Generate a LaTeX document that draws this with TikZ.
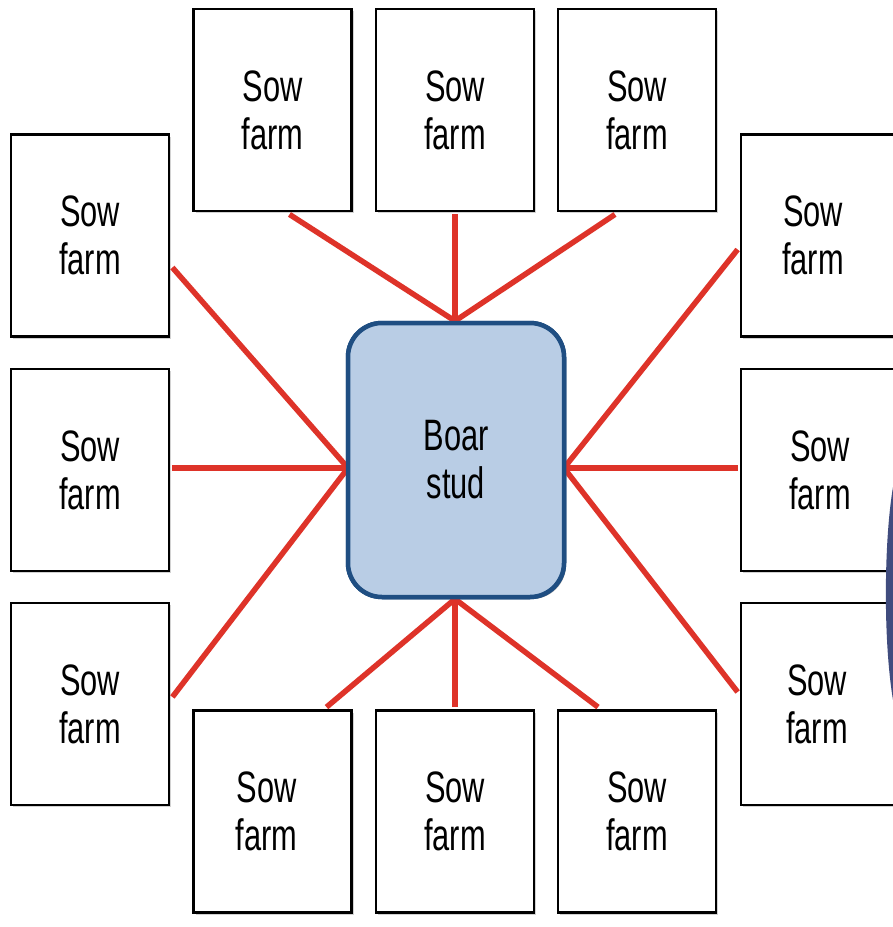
\documentclass[tikz,border=0pt]{standalone}
\usepackage{fontspec}
\setmainfont{Liberation Sans}[FakeStretch=0.7]
\usetikzlibrary{calc,shadows}
\definecolor{linkred}{HTML}{DE3329}
\definecolor{studfill}{HTML}{B9CDE5}
\definecolor{studedge}{HTML}{1F4E82}
\definecolor{darkblob}{HTML}{404C7E}
\begin{document}
\begin{tikzpicture}[x=1pt,y=-1pt,
  farmbox/.style={draw=black, line width=2.8pt, fill=white, minimum width=158pt, minimum height=202pt, inner sep=0pt, align=center,
    font=\fontsize{44}{48}\selectfont,
    drop shadow={shadow xshift=2pt, shadow yshift=-2pt, opacity=0.35, fill=gray}},
  studbox/.style={draw=studedge, line width=4.5pt, fill=studfill, rounded corners=34pt, minimum width=216pt, minimum height=274pt, inner sep=0pt, align=center,
    font=\fontsize{44}{48}\selectfont,
    drop shadow={shadow xshift=2pt, shadow yshift=-2pt, opacity=0.35, fill=gray}},
  link/.style={draw=linkred, line width=5.5pt}]
\useasboundingbox (0,0) rectangle (893,927);
\fill[white] (0,0) rectangle (893,927);

\coordinate (cn) at (455,321);
\coordinate (cw) at (348,468);
\coordinate (ce) at (564,468);
\coordinate (cs) at (455,599);

\node[studbox] (c) at (456,460) {Boar\\stud};

\node[farmbox] (t1) at (272.5,110) {Sow\\farm};
\node[farmbox] (t2) at (455,110) {Sow\\farm};
\node[farmbox] (t3) at (637,110) {Sow\\farm};
\node[farmbox] (l1) at (90,235.5) {Sow\\farm};
\node[farmbox] (l2) at (90,470) {Sow\\farm};
\node[farmbox] (l3) at (90,704) {Sow\\farm};
\node[farmbox] (r1) at (820,235.5) {\hspace*{-14pt}Sow\\\hspace*{-14pt}farm};
\node[farmbox] (r2) at (820,470) {Sow\\farm};
\node[farmbox] (r3) at (820,704) {\hspace*{-6pt}Sow\\\hspace*{-6pt}farm};
\node[farmbox] (b1) at (272.5,811.5) {\hspace*{-12pt}Sow\\\hspace*{-12pt}farm};
\node[farmbox] (b2) at (455,811.5) {Sow\\farm};
\node[farmbox] (b3) at (637,811.5) {Sow\\farm};

\draw[link] ($(t1.south)+(17,2)$) -- (cn);
\draw[link] ($(t2.south)+(0,2)$) -- (cn);
\draw[link] ($(t3.south)+(-22,2)$) -- (cn);
\draw[link] ($(l1.east)+(2,32)$) -- (cw);
\draw[link] ($(l2.east)+(2,-2)$) -- (cw);
\draw[link] ($(l3.east)+(2,-7)$) -- (cw);
\draw[link] ($(r1.west)+(-2,14)$) -- (ce);
\draw[link] ($(r2.west)+(-2,-2)$) -- (ce);
\draw[link] ($(r3.west)+(-2,-12)$) -- (ce);
\draw[link] ($(b1.north)+(54,-2)$) -- (cs);
\draw[link] ($(b2.north)+(0,-2)$) -- (cs);
\draw[link] ($(b3.north)+(-39,-2)$) -- (cs);

% center box drawn again above the links
\node[studbox] at (c.center) {Boar\\stud};

% dark shape cut off at the right edge
\fill[darkblob] (893,487) .. controls (884,540) and (883,640) .. (893,700) -- cycle;
\end{tikzpicture}
\end{document}
